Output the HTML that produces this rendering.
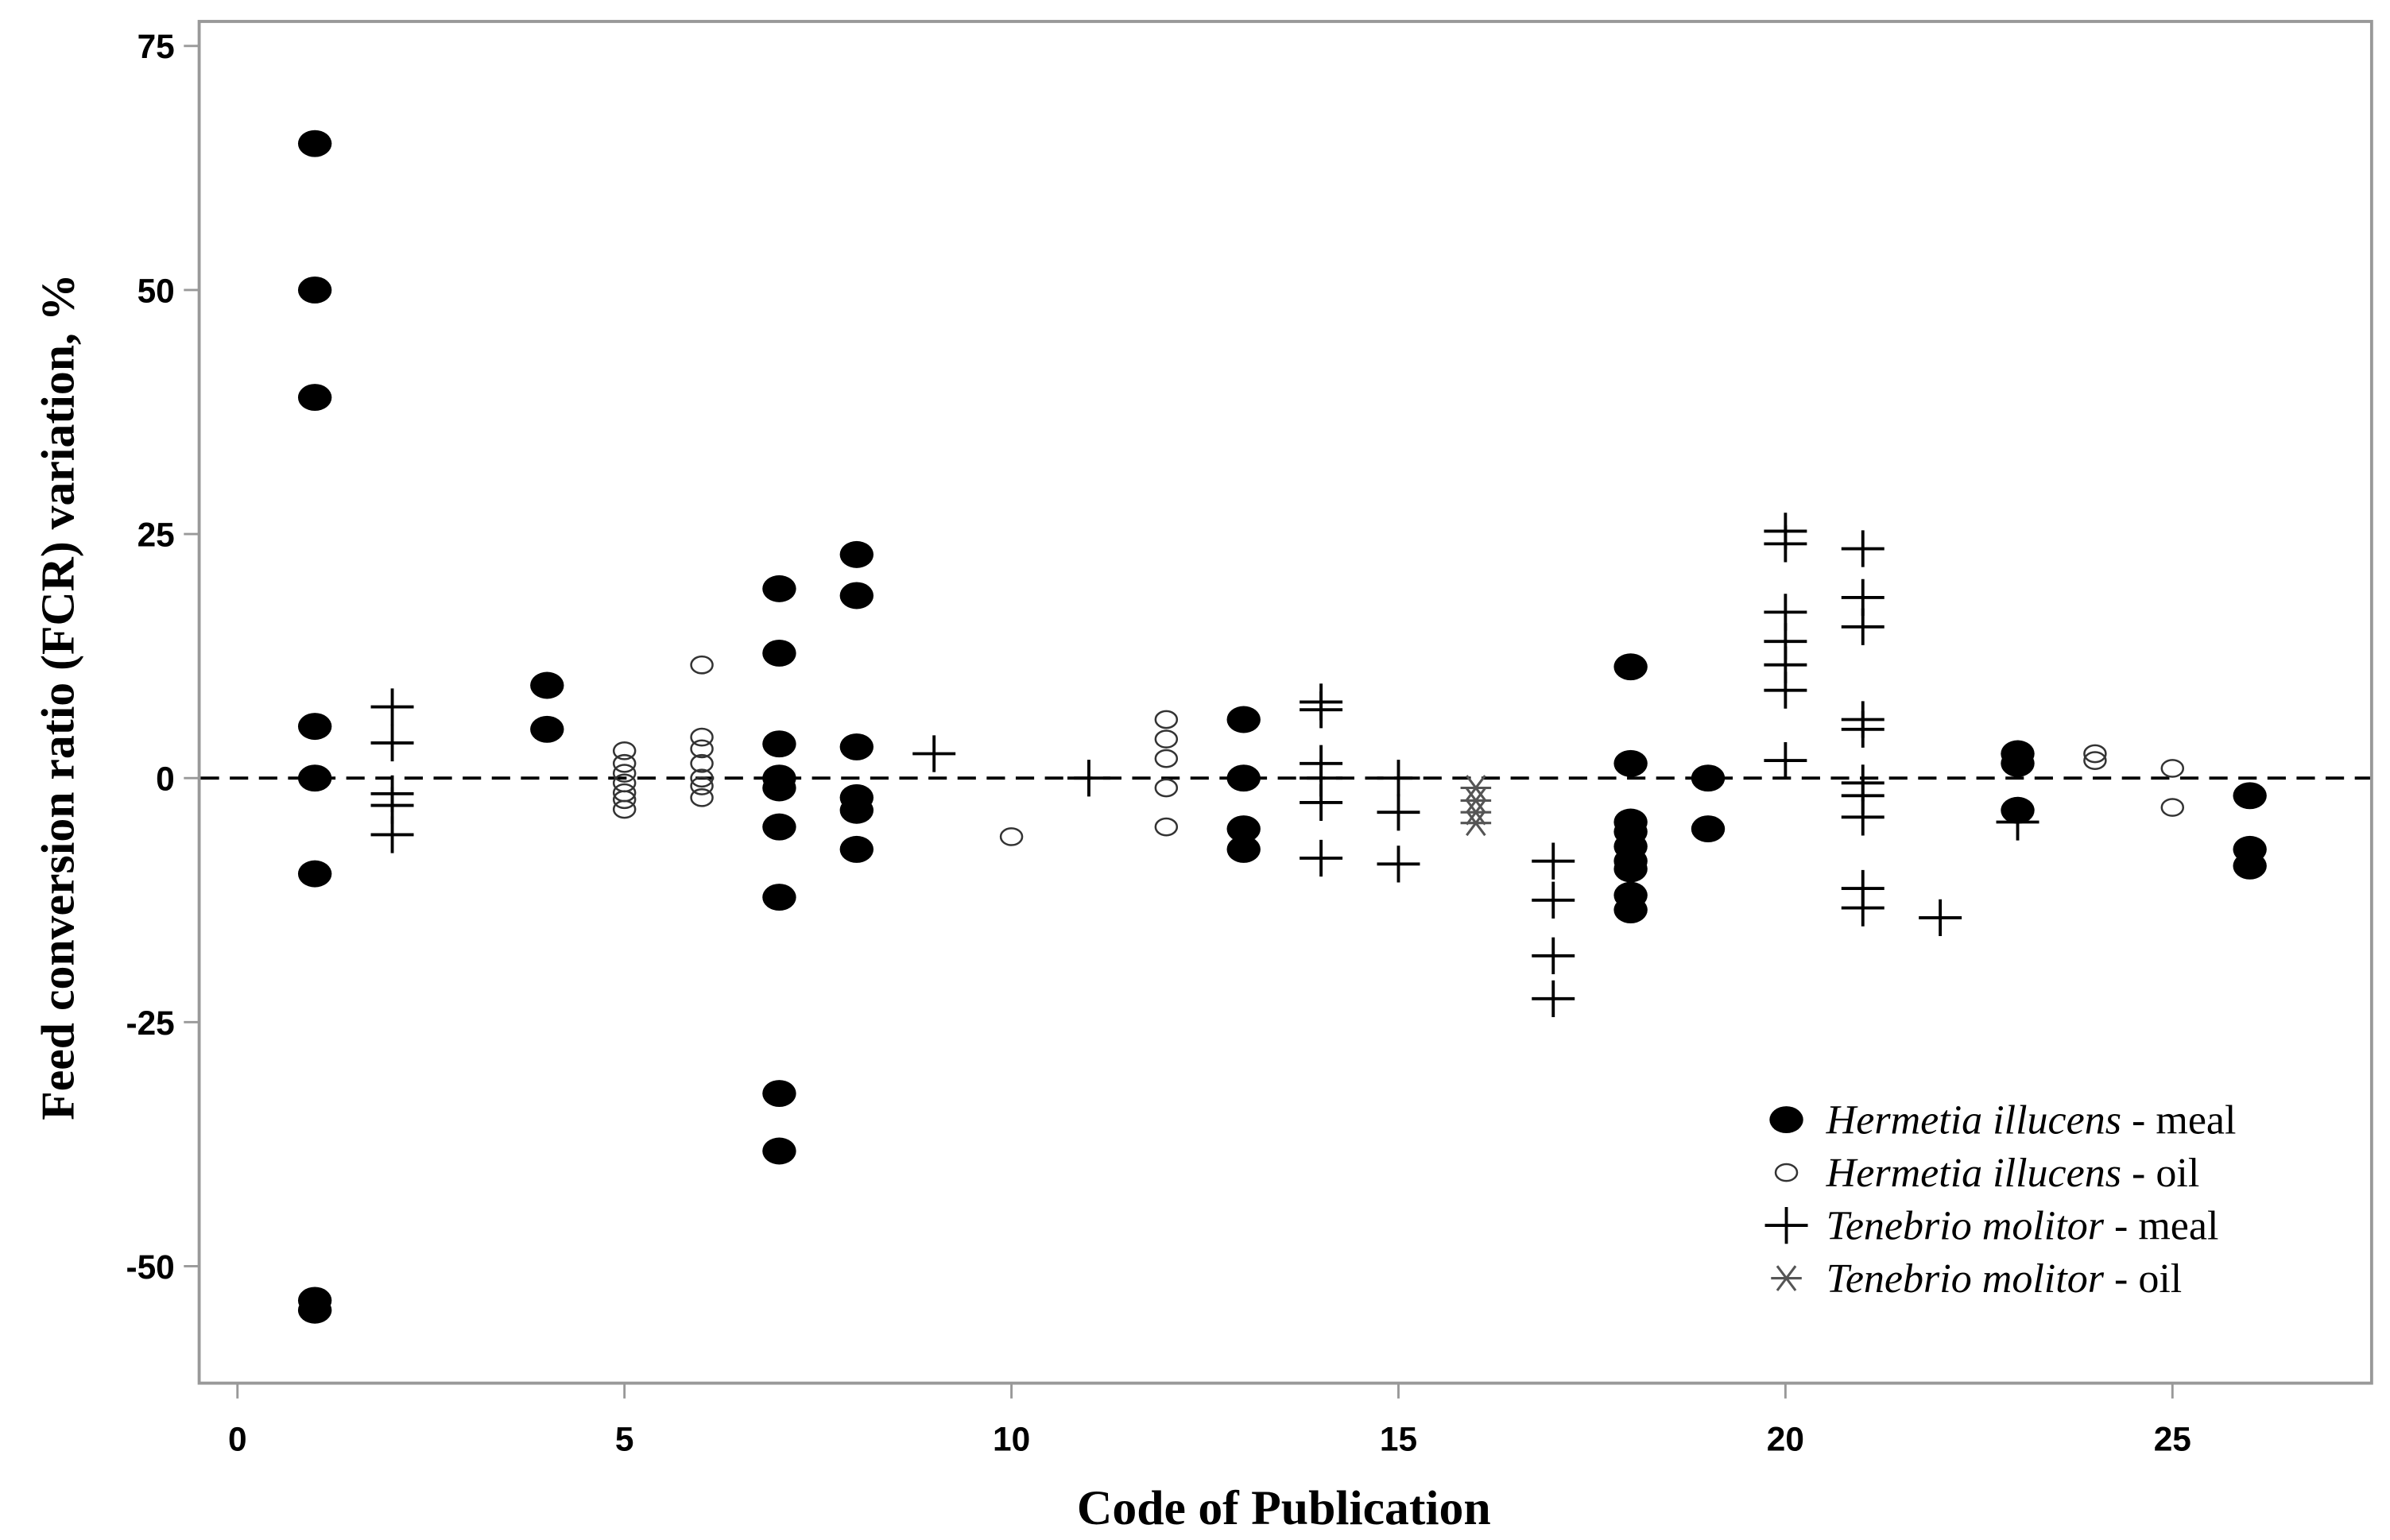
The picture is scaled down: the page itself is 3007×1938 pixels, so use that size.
<!DOCTYPE html>
<html><head><meta charset="utf-8"><style>
html,body{margin:0;padding:0;background:#fff;}
svg{display:block;}
</style></head><body>
<svg id="chart" width="3007" height="1938" viewBox="0 0 1560 1005.4" preserveAspectRatio="none" xmlns="http://www.w3.org/2000/svg">
<rect x="0" y="0" width="1560" height="1006" fill="#fff"/>
<rect x="130" y="14" width="1418" height="889" fill="none" stroke="#999" stroke-width="2"/>
<g id="axes"></g>
<g id="marks"></g>
<text x="838" y="995" text-anchor="middle" font-family="Liberation Serif, serif" font-weight="bold" font-size="32">Code of Publication</text>
<text transform="translate(48,455) rotate(-90)" text-anchor="middle" font-family="Liberation Serif, serif" font-weight="bold" font-size="31">Feed conversion ratio (FCR) variation, %</text>
<g id="legend" font-family="Liberation Serif, serif" font-size="27"></g>
</svg>
<script>
const xTicks = [0, 5, 10, 15, 20, 25];
const yTicks = [75, 50, 25, 0, -25, -50];
const hiMealX = [1,1,1,1,1,1,1,1, 4,4, 7,7,7,7,7,7,7,7,7, 8,8,8,8,8,8, 13,13,13,13, 18,18,18,18,18,18,18,18,18, 19,19, 23,23,23, 26,26,26];
const hiMealY = [65,50,39,5.3,0,-9.8,-53.5,-54.5, 9.5,5, 19.4,12.8,3.5,0,-1,-5,-12.2,-32.3,-38.2, 22.9,18.7,3.2,-2,-3.3,-7.3, 6,0,-5.2,-7.3, 11.4,1.5,-4.5,-5.5,-7,-8.5,-9.3,-12,-13.5, 0,-5.2, 2.5,1.5,-3.3, -1.8,-7.3,-9];
const hiOilX = [5,5,5,5,5,5,5, 6,6,6,6,6,6,6, 10, 12,12,12,12,12, 24,24, 25,25];
const hiOilY = [2.8,1.5,0.5,-0.5,-1.5,-2.2,-3.2, 11.6,4.2,3,1.5,0,-0.8,-2, -6, 6,4,2,-1,-5, 2.5,1.8, 1,-3];
const tmMealX = [2,2,2,2,2, 9, 11, 14,14,14,14,14,14, 15,15,15, 17,17,17,17, 20,20,20,20,20,20,20, 21,21,21,21,21,21,21,21,21,21, 22, 23];
const tmMealY = [7.3,3.6,-1.6,-2.8,-5.8, 2.5, 0, 7.8,7,1.5,0,-2.5,-8.2, 0,-3.5,-8.8, -8.5,-12.5,-18.2,-22.6, 25.3,24,17,14,11.6,9,1.8, 23.5,18.5,15.5,6,5,-0.5,-1.8,-4,-11.3,-13.3, -14.3, -4.5];
const tmOilX = [16,16,16,16];
const tmOilY = [-1,-2.3,-3.5,-4.6];

const NS = 'http://www.w3.org/2000/svg';
const xs = v => 155 + v * (1418 - 155) / 25;
const ys = v => 508 - v * (508 - 30) / 75;
function mk(tag, attrs, parent) {
  const e = document.createElementNS(NS, tag);
  for (const k in attrs) e.setAttribute(k, attrs[k]);
  parent.appendChild(e);
  return e;
}
const axes = document.getElementById('axes');
const marks = document.getElementById('marks');
xTicks.forEach(t => {
  const l = mk('line', {x1: xs(t), x2: xs(t), y1: 903, y2: 913, stroke: '#999', 'stroke-width': 1.5}, axes);
  
  
  const tx = mk('text', {x: xs(t), y: 947, 'text-anchor': 'middle', 'font-family': 'Liberation Sans, sans-serif', 'font-size': 22, 'font-weight': 'bold'}, axes);
  tx.textContent = t;
  
  
});
yTicks.forEach(t => {
  const l = mk('line', {x1: 120, x2: 130, y1: ys(t), y2: ys(t), stroke: '#999', 'stroke-width': 1.5}, axes);
  
  
  const tx = mk('text', {x: 114, y: ys(t) + 8, 'text-anchor': 'end', 'font-family': 'Liberation Sans, sans-serif', 'font-size': 22, 'font-weight': 'bold'}, axes);
  tx.textContent = t;
  
  
});
const zl = mk('line', {x1: 131, x2: 1547, y1: ys(0), y2: ys(0), stroke: '#000', 'stroke-width': 2, 'stroke-dasharray': '12 7'}, axes);



function filled(x, y, p) {
  const e = mk('ellipse', {cx: x, cy: y, rx: 11, ry: 8.8, fill: '#000'}, p);
  
  
}
function open(x, y, p) {
  const e = mk('ellipse', {cx: x, cy: y, rx: 7, ry: 5.5, fill: 'none', stroke: '#333', 'stroke-width': 1.3}, p);
  
  
}
function plus(x, y, p) {
  const e = mk('path', {d: `M${x-14} ${y}H${x+14}M${x} ${y-12}V${y+12}`, stroke: '#000', 'stroke-width': 2, fill: 'none'}, p);
  
  
}
function star(x, y, p) {
  const e = mk('path', {d: `M${x-10} ${y}H${x+10}M${x-6} ${y-8}L${x+6} ${y+8}M${x+6} ${y-8}L${x-6} ${y+8}`, stroke: '#555', 'stroke-width': 1.6, fill: 'none'}, p);
  
  
}
hiMealX.forEach((x, i) => filled(xs(x), ys(hiMealY[i]), marks));
hiOilX.forEach((x, i) => open(xs(x), ys(hiOilY[i]), marks));
tmMealX.forEach((x, i) => plus(xs(x), ys(tmMealY[i]), marks));
tmOilX.forEach((x, i) => star(xs(x), ys(tmOilY[i]), marks));

const legend = document.getElementById('legend');
const legSpecies = ['Hermetia illucens -', 'Hermetia illucens -', 'Tenebrio molitor -', 'Tenebrio molitor -'];
const legType = ['meal', 'oil', 'meal', 'oil'];
const legFns = [filled, open, plus, star];
legSpecies.forEach((s, i) => {
  const y = 731 + i * 34.5;
  const g = mk('g', {}, legend);
  
  
  legFns[i](1166, y, g);
  const t = mk('text', {x: 1192, y: y + 9}, g);
  
  
  const a = mk('tspan', {'font-style': 'italic'}, t);
  a.textContent = s + ' ';
  const b = mk('tspan', {}, t);
  b.textContent = legType[i];
});
</script>
</body></html>
